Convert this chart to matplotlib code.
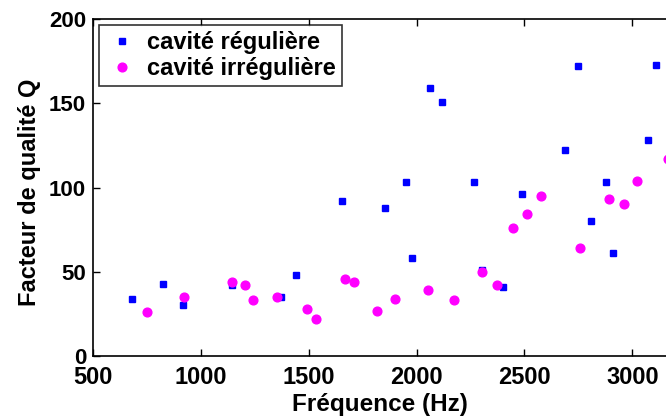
import matplotlib
matplotlib.use("Agg")
import matplotlib.pyplot as plt

# cavité régulière (carrés bleus)
freq_reg = [679, 823, 919, 1144, 1371, 1443, 1656, 1855, 1951, 1977, 2062, 2117,
            2265, 2305, 2401, 2490, 2688, 2748, 2808, 2878, 2910, 3072, 3109]
q_reg = [34, 43, 30, 42, 35, 48, 92, 88, 103, 58, 159, 151,
         103, 51, 41, 96, 122, 172, 80, 103, 61, 128, 173]

# cavité irrégulière (ronds magenta)
freq_irr = [752, 921, 1143, 1206, 1243, 1352, 1492, 1532, 1667, 1710, 1815, 1899,
            2052, 2173, 2301, 2372, 2446, 2511, 2577, 2757, 2891, 2962, 3022, 3166]
q_irr = [26, 35, 44, 42, 33, 35, 28, 22, 46, 44, 27, 34,
         39, 33, 50, 42, 76, 84, 95, 64, 93, 90, 104, 117]

xticks = [500, 1000, 1500, 2000, 2500, 3000]
yticks = [0, 50, 100, 150, 200]

plt.rcParams['font.family'] = ['Liberation Sans', 'DejaVu Sans']
plt.rcParams['font.weight'] = 'bold'

fig = plt.figure(figsize=(6.66, 4.18), dpi=100)
ax = fig.add_axes([0.1396, 0.1483, 0.8604, 0.8062])

ax.plot(freq_reg, q_reg, 's', color='#0000ff', markersize=5, mec='#0000ff',
        label='cavité régulière')
ax.plot(freq_irr, q_irr, 'o', color='#ff00ff', markersize=6.3, mec='#ff00ff',
        label='cavité irrégulière')

ax.set_xlim(500, 3156)
ax.set_ylim(0, 200)
ax.set_xticks(xticks)
ax.set_yticks(yticks)
ax.tick_params(direction='in', length=5, width=1, top=True, right=False)
ax.tick_params(axis='x', labelsize=17, pad=7)
ax.tick_params(axis='y', labelsize=16, pad=5)
for lab in ax.get_xticklabels() + ax.get_yticklabels():
    lab.set_fontweight('bold')
ax.spines['right'].set_visible(False)
for s in ['left', 'bottom', 'top']:
    ax.spines[s].set_linewidth(1.2)

ax.set_xlabel('Fréquence (Hz)', fontsize=17.5, fontweight='bold', labelpad=3)
ax.set_ylabel('Facteur de qualité Q', fontsize=17, fontweight='bold',
              labelpad=6, y=0.485)

leg = ax.legend(loc='upper left', frameon=True, fancybox=False,
                edgecolor='black', borderpad=0.25, labelspacing=0.15,
                handletextpad=0.3, handlelength=1.5, borderaxespad=0.25,
                prop={'weight': 'bold', 'size': 17})
leg.get_frame().set_linewidth(1.2)

fig.savefig('out.png', dpi=100)
